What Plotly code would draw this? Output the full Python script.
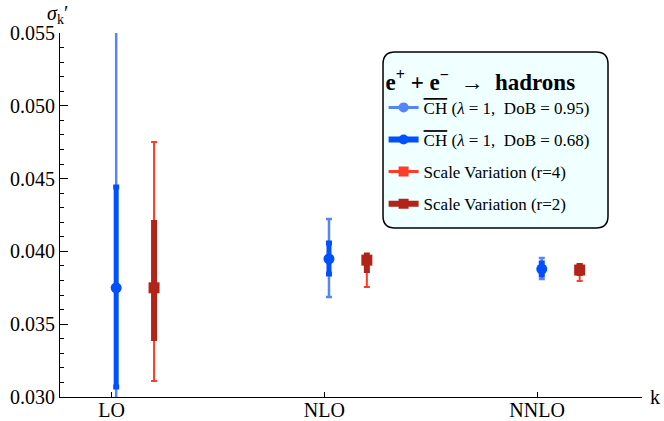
import plotly.graph_objects as go

# ---- data ----
orders = ["LO", "NLO", "NNLO"]
k_pos = [1, 2, 3]

ch_center = [0.03750, 0.03948, 0.03879]
ch95_hi = [0.0575, 0.04223, 0.03955]
ch95_lo = [0.0175, 0.03687, 0.03810]
ch68_hi = [0.04442, 0.04058, 0.03920]
ch68_lo = [0.03069, 0.03845, 0.03838]

sv_center = [0.03750, 0.03940, 0.03872]
sv4_hi = [0.04751, 0.03970, 0.03910]
sv4_lo = [0.03110, 0.03755, 0.03797]
sv2_hi = [0.04195, 0.03972, 0.03900]
sv2_lo = [0.03405, 0.03872, 0.03852]

blue_off = 0.022
red_off = 0.2

c_lblue = "#5585F7"
c_dblue = "#0050FF"
c_lred = "#FF3C28"
c_dred = "#B32418"
FONT = "Liberation Serif"

def plus(hi, c):
    return [h - m for h, m in zip(hi, c)]

def minus(lo, c):
    return [m - l for l, m in zip(lo, c)]

xb = [k + blue_off for k in k_pos]
xr = [k + red_off for k in k_pos]

fig = go.Figure()

fig.add_trace(go.Scatter(
    x=xb, y=ch_center, mode="markers", showlegend=False,
    marker=dict(color=c_lblue, size=9, symbol="circle"),
    error_y=dict(type="data", symmetric=False, array=plus(ch95_hi, ch_center),
                 arrayminus=minus(ch95_lo, ch_center), color=c_lblue,
                 thickness=2.5, width=3)))
fig.add_trace(go.Scatter(
    x=xb, y=ch_center, mode="markers", showlegend=False,
    marker=dict(color=c_dblue, size=11, symbol="circle"),
    error_y=dict(type="data", symmetric=False, array=plus(ch68_hi, ch_center),
                 arrayminus=minus(ch68_lo, ch_center), color=c_dblue,
                 thickness=5, width=3)))
fig.add_trace(go.Scatter(
    x=xr, y=sv_center, mode="markers", showlegend=False,
    marker=dict(color=c_lred, size=8, symbol="square"),
    error_y=dict(type="data", symmetric=False, array=plus(sv4_hi, sv_center),
                 arrayminus=minus(sv4_lo, sv_center), color=c_lred,
                 thickness=2, width=3)))
fig.add_trace(go.Scatter(
    x=xr, y=sv_center, mode="markers", showlegend=False,
    marker=dict(color=c_dred, size=11, symbol="square"),
    error_y=dict(type="data", symmetric=False, array=plus(sv2_hi, sv_center),
                 arrayminus=minus(sv2_lo, sv_center), color=c_dred,
                 thickness=6, width=3)))

ch = '<span style="text-decoration:overline">CH</span>'
leg = [
    (ch + " (<i>λ</i> = 1,  DoB = 0.95)", c_lblue, "circle", 3),
    (ch + " (<i>λ</i> = 1,  DoB = 0.68)", c_dblue, "circle", 6),
    ("Scale Variation (r=4)", c_lred, "square", 3),
    ("Scale Variation (r=2)", c_dred, "square", 6),
]
for i, (name, col, sym, lw) in enumerate(leg):
    fig.add_trace(go.Scatter(
        x=[None], y=[None], mode="lines+markers", name=name,
        legendgroup=f"g{i}",
        line=dict(color=col, width=lw),
        marker=dict(color=col, size=10, symbol=sym)))

x0, x1 = 0.555, 0.9416
y0, y1 = 0.464, 0.948
rx, ry = 12 / 582, 12 / 364
path = (f"M {x0+rx},{y1} L {x1-rx},{y1} Q {x1},{y1} {x1},{y1-ry} "
        f"L {x1},{y0+ry} Q {x1},{y0} {x1-rx},{y0} L {x0+rx},{y0} "
        f"Q {x0},{y0} {x0},{y0+ry} L {x0},{y1-ry} Q {x0},{y1} {x0+rx},{y1} Z")
fig.add_shape(type="path", path=path, xref="paper", yref="paper",
              fillcolor="#F0FFFF", line=dict(color="black", width=1.5), layer="above")

fig.update_layout(
    width=664, height=421,
    margin=dict(l=60, r=22, t=33, b=24),
    paper_bgcolor="white", plot_bgcolor="white",
    font=dict(family=FONT, color="black", size=17),
    legend=dict(
        x=x0 + 0.001, y=y1 - 0.022, xanchor="left", yanchor="top",
        bgcolor="rgba(0,0,0,0)", borderwidth=0,
        font=dict(family=FONT, size=17, color="black"),
        traceorder="grouped", tracegroupgap=7,
        title=dict(text="<b>e<sup>+</sup> + e<sup>−</sup> \u00a0→\u00a0 hadrons</b>",
                   font=dict(family=FONT, size=23, color="black"), side="top"),
    ),
    xaxis=dict(
        range=[0.758, 3.493], showgrid=False, zeroline=False, automargin=False,
        tickvals=k_pos, ticktext=orders, ticks="inside", ticklen=5,
        tickcolor="black", showline=True, linecolor="black", linewidth=1,
        tickfont=dict(family=FONT, size=20, color="black"),
        ticklabelstandoff=-5,
    ),
    yaxis=dict(
        range=[0.030, 0.055], showgrid=False, zeroline=False, automargin=False,
        tickvals=[0.030, 0.035, 0.040, 0.045, 0.050, 0.055],
        tickformat=".3f", ticks="inside", ticklen=8, tickcolor="black",
        showline=True, linecolor="black", linewidth=1,
        tickfont=dict(family=FONT, size=20, color="black"),
        minor=dict(ticks="inside", dtick=0.001, ticklen=4, tickcolor="black"),
    ),
)

fig.add_annotation(x=-0.005, y=1.052, xref="paper", yref="paper", showarrow=False,
                   text="<i>σ</i><sub>k</sub>′", font=dict(family=FONT, size=20),
                   xanchor="center", yanchor="middle")
fig.add_annotation(x=1.022, y=0.0, xref="paper", yref="paper", showarrow=False,
                   text="k", font=dict(family=FONT, size=20),
                   xanchor="center", yanchor="middle")

fig.write_html("out.html")
